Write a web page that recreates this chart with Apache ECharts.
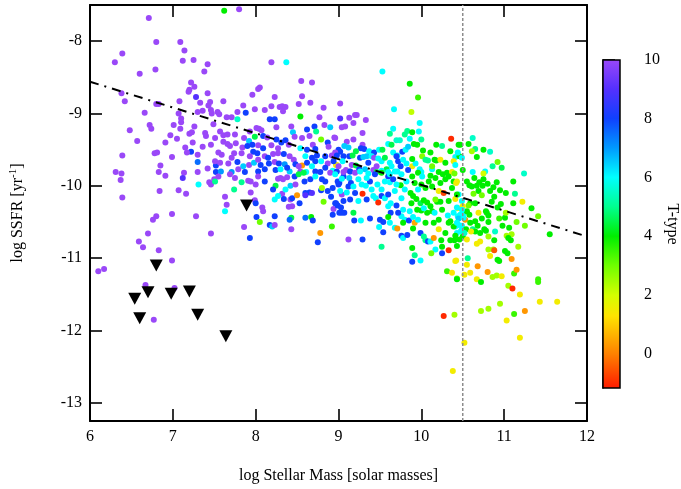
<!DOCTYPE html>
<html><head><meta charset="utf-8">
<script src="https://cdn.jsdelivr.net/npm/echarts@6/dist/echarts.min.js"></script>
<style>html,body{margin:0;padding:0;background:#fff}#c{width:681px;height:489px}</style>
</head><body><div id="c"></div>
<script>
// ---- axis / tick values ----
const xTicks = [6, 7, 8, 9, 10, 11, 12];
const yTicks = [-13, -12, -11, -10, -9, -8];
const cbTicks = [0, 2, 4, 6, 8, 10];
const xRange = [6, 12];
const yRange = [-13.25, -7.5];
const cbRange = [-1.17, 10];
const fitLine = [[6, -8.56], [12, -10.70]];
const massLimit = 10.5;

// ---- galaxies: [log M*, log SSFR, T-type] ----
const dwarfsLow = [
[6.71,-7.68,10],[6.80,-8.01,10],[7.09,-8.01,10],[6.39,-8.17,10],[6.30,-8.29,10],[7.14,-8.13,10],[7.12,-8.27,10],[7.25,-8.26,10],[7.42,-8.32,10],[7.38,-8.42,10],[6.79,-8.39,10],[6.60,-8.45,10],[7.22,-8.57,10],[7.26,-8.63,10],[7.20,-8.67,10],[7.19,-8.70,10],[7.42,-8.72,10],[7.28,-8.77,9],[6.38,-8.72,10],[6.42,-8.83,10],[7.08,-8.83,10],[6.80,-8.87,10],[6.83,-8.87,10],[7.45,-8.84,10],[7.43,-8.89,10],[7.33,-8.85,10],[7.46,-8.95,10],[7.36,-8.96,10],[7.47,-9.00,10],[7.30,-8.98,10],[6.66,-8.99,10],[7.07,-9.00,10],[7.10,-9.07,10],[7.10,-9.12,10],[7.49,-9.15,10],[6.72,-9.16,10],[6.74,-9.21,10],[7.01,-9.16,10],[7.26,-9.18,10],[7.09,-9.21,10],[6.48,-9.23,10],[6.97,-9.30,10],[7.05,-9.35,10],[7.20,-9.28,10],[7.23,-9.26,10],[7.39,-9.27,10],[7.40,-9.31,10],[7.51,-9.34,10],[6.57,-9.38,10],[6.91,-9.40,10],[7.24,-9.40,10],[7.15,-9.47,10],[7.36,-9.46,10],[7.46,-9.43,10],[7.22,-9.53,8],[7.17,-9.54,10],[7.30,-9.57,10],[6.78,-9.55,10],[6.81,-9.54,10],[6.39,-9.58,10],[6.99,-9.60,10],[7.30,-9.67,7.5],[6.85,-9.72,10],[6.83,-9.81,10],[6.31,-9.81,10],[6.38,-9.83,10],[7.135,-9.82,10],[7.30,-9.81,10],[7.42,-9.76,10],[7.52,-9.72,8],[7.52,-9.81,8],
[6.37,-9.92,10],[6.91,-9.86,10],[7.12,-9.89,9],[7.31,-9.98,6],[7.44,-9.95,10],[7.46,-9.98,10],[7.50,-9.91,10],[6.39,-10.16,10],[6.84,-10.07,10],[7.07,-10.06,10],[7.16,-10.11,10],[6.80,-10.42,10],[6.76,-10.47,10],[6.99,-10.39,10],[7.28,-10.42,10],[6.70,-10.66,10],[7.46,-10.66,10],[6.59,-10.77,10],[6.64,-10.85,10],[6.83,-10.89,10],[6.99,-11.03,10],[6.10,-11.18,10],[6.17,-11.15,10],[6.67,-11.37,10],[7.02,-11.41,10],[6.77,-11.85,10]
];
const dwarfsHigh = [
[7.62,-7.58,4],[7.80,-7.56,10],[8.19,-8.29,10],[8.37,-8.29,6],[8.55,-8.55,10],[8.68,-8.57,10],[8.05,-8.64,10],[8.03,-8.66,10],[8.56,-8.76,10],[7.96,-8.74,10],[8.23,-8.77,10],[7.61,-8.83,10],[7.85,-8.89,10],[7.99,-8.94,10],[8.11,-8.95,10],[8.19,-8.90,10],[8.29,-8.91,10],[8.32,-8.90,10],[8.36,-8.91,10],[8.33,-8.97,10],[8.52,-8.87,10],[8.66,-8.85,10],[8.82,-8.92,10],[7.54,-8.98,10],[7.56,-9.01,10],[7.78,-8.98,10],[7.88,-8.99,8],[7.65,-9.05,10],[7.71,-9.05,10],[7.78,-9.08,5.5],[8.54,-9.04,4],[8.77,-9.05,10],[8.17,-9.08,8],[8.23,-9.08,8],[8.25,-9.19,10],[8.43,-9.18,10],[8.07,-9.23,10],[8.04,-9.21,10],[8.01,-9.20,10],[7.93,-9.25,10],[8.62,-9.22,8],[8.71,-9.18,8],[8.73,-9.25,5],[8.83,-9.16,10],[8.90,-9.19,6.5],[8.45,-9.26,6.5],[7.57,-9.25,10],[7.61,-9.30,10],[7.66,-9.29,10],[7.75,-9.29,10],[7.86,-9.34,10],[7.92,-9.38,6.5],[7.99,-9.32,4.5],[8.09,-9.31,8],[8.14,-9.33,10],[8.25,-9.36,8],[8.31,-9.40,8],[8.36,-9.37,8],[8.47,-9.32,10],[8.56,-9.34,10],[8.65,-9.31,10],[8.69,-9.43,10],[8.79,-9.36,3],[8.87,-9.40,8],[8.95,-9.33,10],[7.61,-9.39,10],[7.66,-9.42,10],[7.69,-9.45,10],[7.76,-9.41,10],[7.84,-9.47,10],[7.90,-9.45,8],[7.96,-9.43,8],[8.03,-9.44,10],[8.09,-9.48,8],[8.19,-9.44,10],[8.27,-9.48,10],[8.40,-9.43,10],[8.54,-9.48,6],[8.62,-9.50,8],[8.72,-9.49,8],[8.88,-9.46,10],[9.00,-9.50,8],[7.55,-9.54,10],[7.59,-9.57,10],[7.74,-9.55,10],[7.83,-9.55,10],[7.97,-9.53,8],[8.02,-9.55,8],[8.11,-9.59,10],[8.21,-9.56,10],[8.27,-9.55,10],[8.34,-9.56,8],[8.41,-9.59,10],[8.46,-9.64,10],[8.60,-9.59,6],[8.68,-9.61,8],[8.74,-9.58,8],[8.84,-9.59,8],[8.92,-9.58,10],[7.51,-9.66,10],[7.57,-9.68,10],[7.67,-9.69,10],[7.78,-9.67,8],[7.85,-9.73,6.5],[7.92,-9.71,10],[7.98,-9.68,6.5],[8.06,-9.71,8],[8.16,-9.69,8],[8.23,-9.67,10],[8.28,-9.69,8],[8.35,-9.70,7],[8.48,-9.70,8],[8.56,-9.72,0.3],[8.62,-9.68,8],[8.72,-9.66,8],[8.79,-9.66,6],[8.87,-9.69,10],[8.98,-9.71,1.5],[7.58,-9.80,7],[7.71,-9.81,7],[7.87,-9.81,8],[8.03,-9.80,8],[8.24,-9.78,8],[8.41,-9.80,6.5],[8.61,-9.81,6],[8.78,-9.81,8],[8.93,-9.79,6]
];
const spiralsLow = [
[7.51,-9.94,5],[7.63,-10.15,10],[7.65,-10.26,10],[7.63,-10.35,6],[7.74,-10.05,5],[7.83,-9.95,5],[7.94,-10.09,10],[7.91,-9.93,10],[7.94,-9.94,10],[8.00,-9.98,10],[8.03,-9.87,10],[8.11,-9.94,8],[7.99,-10.20,10],[8.00,-10.24,8],[8.08,-10.30,10],[8.09,-10.35,10],[8.01,-10.43,8],[8.05,-10.50,3],[7.86,-10.57,10],[7.93,-10.72,8],[8.24,-10.00,4.5],[8.27,-9.90,10],[8.30,-9.89,10],[8.33,-9.91,10],[8.38,-9.88,10],[8.32,-10.11,10],[8.23,-10.19,6],[8.27,-10.14,6],[8.34,-10.18,8],[8.23,-10.42,8],[8.17,-10.54,8],[8.20,-10.56,6.5],[8.23,-10.54,10],[8.42,-10.00,6.5],[8.42,-10.19,10],[8.44,-10.17,8],[8.50,-10.13,0.3],[8.47,-9.87,8],[8.48,-9.98,10],[8.44,-10.28,10],[8.40,-10.29,10],[8.43,-10.44,4.5],[8.41,-10.47,7.5],[8.43,-10.60,10],[8.53,-10.24,8],[8.60,-10.10,8],[8.65,-10.09,8],[8.68,-10.10,9],[8.60,-10.13,9],[8.60,-10.44,7.5],[8.67,-10.43,4],[8.69,-10.48,8],[8.59,-9.94,8],[8.66,-9.91,8],[8.79,-10.06,8],[8.87,-10.07,8],[8.80,-10.03,2.5],[8.82,-10.22,3],[8.84,-9.94,8],[8.91,-10.15,8],[8.93,-10.03,8],[8.97,-10.24,8],[8.94,-10.32,10],[8.93,-10.40,8],[9.01,-10.37,8],[8.78,-10.65,0.3],[8.92,-10.56,3.5],[8.75,-10.78,8]
];
const spiralsMid = [
[9.53,-8.42,6],[9.86,-8.59,4],[9.96,-8.78,3.5],[9.67,-8.94,6],[9.88,-8.98,2.2],[9.02,-8.86,10],[9.02,-9.07,9],[9.13,-9.06,10],[9.20,-9.02,10],[9.22,-9.02,10],[9.04,-9.19,10],[9.08,-9.18,10],[9.18,-9.13,10],[9.33,-9.09,10],[9.29,-9.27,10],[9.98,-9.13,6],[9.66,-9.21,6],[9.62,-9.28,5],[9.83,-9.24,5],[9.80,-9.29,5],[9.89,-9.26,4],[9.97,-9.25,6],[9.70,-9.37,5.5],[9.74,-9.37,5.5],[9.60,-9.42,6],[9.86,-9.35,6],[9.91,-9.42,4],[10.00,-9.36,5],[8.96,-9.34,10],[9.10,-9.39,10],[9.18,-9.36,10],[9.29,-9.43,10],[9.07,-9.45,6.5],[9.12,-9.47,6.5],[9.02,-9.53,8],[9.27,-9.48,8],[9.31,-9.49,8],[9.21,-9.52,4.5],[9.37,-9.52,6],[9.43,-9.54,8],[9.49,-9.50,6],[9.53,-9.50,4.5],[9.64,-9.43,4.5],[9.66,-9.54,6],[9.71,-9.58,6],[9.77,-9.53,8],[9.81,-9.50,6],[9.84,-9.46,6.5],[9.95,-9.43,4],[10.02,-9.51,4],[10.01,-9.59,2.8],[10.05,-9.64,5],[10.08,-9.65,5],[10.18,-9.43,4],[10.25,-9.45,5],[10.16,-9.64,4],[10.18,-9.65,4],[10.23,-9.64,1.5],[10.36,-9.35,-1],[10.35,-9.52,4],[10.41,-9.60,6],[10.39,-9.66,1.5],[10.41,-9.71,6],[10.45,-9.43,4],[10.46,-9.59,4],[8.96,-9.54,10],[8.98,-9.58,8],[9.06,-9.59,8],[9.13,-9.59,8],[9.17,-9.58,4.5],[9.05,-9.66,6],[9.16,-9.71,10],[9.26,-9.61,8],[9.30,-9.60,6.5],[9.34,-9.59,6.5],[9.40,-9.59,6],[9.43,-9.61,10],[9.48,-9.62,6],[9.52,-9.66,6],[9.56,-9.61,4.5],[9.62,-9.68,6],[9.64,-9.73,6],[9.70,-9.59,8],[9.72,-9.66,8],[9.75,-9.73,8],[9.82,-9.69,6],[9.89,-9.73,1.5],[9.93,-9.69,6],[8.97,-9.71,1.5],[9.21,-9.72,4.5],[9.09,-9.78,10],[9.14,-9.80,10],[9.25,-9.77,8],[9.32,-9.77,6.5],[9.42,-9.78,10],[9.46,-9.81,4.5],[9.58,-9.77,4.5],[9.60,-9.81,6],[9.52,-9.79,6],[9.71,-9.80,6],[9.84,-9.78,8],[9.98,-9.77,6],[10.00,-9.81,6],[10.13,-9.77,6],[10.21,-9.81,4],[10.31,-9.82,4],[10.37,-9.81,1.5]
];
const spiralsHigh = [
[8.99,-9.94,8],[9.01,-9.96,8],[9.06,-9.87,8],[9.13,-9.89,6.5],[9.15,-9.96,8],[9.04,-10.12,10],[9.12,-10.01,8],[9.02,-10.07,6],[9.10,-10.09,6],[9.18,-10.01,6],[9.20,-10.10,8],[9.29,-10.11,-1],[9.28,-9.98,6],[9.33,-10.00,6],[9.38,-9.94,8],[9.40,-10.05,6],[8.96,-10.24,8],[8.99,-10.27,8],[9.03,-10.30,8],[9.04,-10.37,8],[9.07,-10.37,8],[9.18,-10.37,4.5],[9.19,-10.48,8],[9.27,-10.48,6],[9.12,-10.74,10],[9.29,-10.74,8],[9.38,-10.45,8],[9.45,-10.17,6],[9.48,-10.23,-1],[9.52,-10.14,8],[9.56,-10.17,6],[9.50,-10.47,8],[9.54,-10.50,8],[9.49,-10.57,6],[9.54,-10.64,8],[9.47,-9.98,6],[9.60,-9.87,8],[9.62,-9.95,6],[9.60,-10.28,6],[9.63,-10.24,6],[9.63,-10.37,8],[9.60,-10.43,4],[9.62,-10.51,6],[9.68,-10.58,6],[9.71,-10.59,0.3],[9.52,-10.84,5],[9.70,-10.27,8],[9.76,-10.17,6],[9.75,-9.99,4],[9.80,-10.05,6],[9.76,-10.42,6],[9.80,-10.47,6],[9.78,-10.51,4],[9.85,-10.48,8],[9.90,-10.43,6],[9.92,-10.51,0.5],[9.90,-10.59,4],[9.76,-10.69,8],[9.78,-10.72,6],[9.83,-10.68,8],[9.88,-10.24,4],[9.90,-10.14,4],[9.94,-10.18,4],[9.99,-10.24,4.5],[10.03,-10.20,4],[10.07,-10.23,4],[10.00,-10.34,4],[9.99,-10.65,8],[10.03,-10.70,5],[10.05,-10.75,5],[9.89,-10.86,4],[9.92,-10.96,5],[9.89,-11.05,8],[9.99,-11.03,6],[10.05,-10.03,4],[10.13,-10.01,4],[10.07,-10.37,4],[10.13,-10.35,4],[10.16,-10.37,6],[10.15,-10.51,4],[10.08,-10.77,8],[10.11,-10.77,6],[10.15,-10.72,0.3],[10.17,-10.88,6],[10.24,-10.75,4],[10.25,-10.93,8],[10.25,-10.84,4],[10.12,-10.93,3],[10.19,-10.22,4],[10.23,-10.22,4],[10.21,-10.07,1.5],[10.27,-10.10,-0.7],[10.32,-10.41,6],[10.33,-10.51,4],[10.35,-10.49,4],[10.29,-10.65,4],[10.33,-10.89,-1],[10.35,-10.75,4],[10.40,-10.75,4],[10.43,-10.65,6],[10.43,-10.83,4],[10.42,-11.03,1.5],[10.31,-11.18,3.5],[10.37,-11.20,1.3],[10.43,-11.28,3],[10.27,-11.80,-1],[10.40,-11.78,2.5],[10.39,-9.94,4],[10.43,-9.94,1.8]
];
const massive = [
[10.62,-9.34,5.5],[10.47,-9.43,4],[10.57,-9.42,4],[10.65,-9.49,5],[10.75,-9.50,4],[10.83,-9.53,5.5],[10.61,-9.52,2.5],[10.67,-9.60,4],[10.44,-9.54,6],[10.49,-9.61,6],[10.92,-9.67,3],[10.86,-9.73,5],[10.97,-9.75,4.5],[10.50,-9.78,4],[10.62,-9.81,6],[10.77,-9.80,6],[10.75,-9.83,2],[11.24,-9.83,5.5],[10.55,-9.94,4],[10.64,-9.89,4],[10.75,-9.91,4],[10.91,-9.95,4],[11.11,-9.94,4],[10.42,-9.96,1.5],[10.61,-10.01,4],[10.67,-10.00,4],[10.74,-10.00,4],[10.83,-10.07,4],[10.69,-10.07,4],[10.73,-10.13,3],[10.63,-10.11,3],[10.88,-10.15,4],[11.13,-10.11,5],[10.41,-10.18,1.5],[10.49,-10.21,6],[10.45,-10.12,6],[10.59,-10.24,4],[10.57,-10.27,3],[10.65,-10.24,4],[10.96,-10.25,4],[11.11,-10.24,4],[11.22,-10.22,1.5],[11.33,-10.31,4],[10.50,-10.28,1.5],[10.44,-10.31,1.5],[10.47,-10.40,6],[10.51,-10.38,6],[10.55,-10.35,4],[10.58,-10.40,4],[10.69,-10.37,1.5],[10.78,-10.35,4],[10.79,-10.37,4],[10.81,-10.41,4],[10.94,-10.45,3.5],[11.01,-10.44,4],[11.02,-10.37,2.5],[11.41,-10.42,3],[10.44,-10.42,6],[10.41,-10.56,6],[10.45,-10.54,6],[10.49,-10.55,6],[10.49,-10.63,6],[10.54,-10.60,4],[10.53,-10.47,0.3],[10.59,-10.51,4],[10.62,-10.60,5],[10.65,-10.49,4],[10.65,-10.63,4],[10.71,-10.65,4],[10.81,-10.50,4],[10.76,-10.60,4],[10.78,-10.62,4],[10.89,-10.63,5.5],[10.41,-10.69,4],[10.46,-10.74,4],[10.50,-10.70,4],[10.55,-10.74,1.5],[10.60,-10.63,1.5],[10.67,-10.80,1.5],[10.71,-10.77,1.5],[10.81,-10.70,2.5],[10.88,-10.75,4],[11.03,-10.69,2.5],[11.09,-10.67,2.5],[11.05,-10.72,4],[11.08,-10.75,4],[11.17,-10.84,2.5],[10.81,-10.88,2.5],[10.87,-10.88,2.5],[10.88,-10.89,-0.5],[10.83,-10.97,1.5],[11.01,-10.90,4],[11.04,-10.93,4],[10.92,-11.02,4],[10.94,-11.04,4],[11.09,-11.01,0.3],[10.56,-11.00,5],[10.55,-11.09,1.5],[10.68,-11.11,0.3],[10.41,-11.04,1.5],[10.43,-11.29,4],[10.52,-11.23,1.5],[10.59,-11.20,1.5],[10.80,-11.19,0.3],[10.67,-11.29,1.5],[10.72,-11.33,4],[10.86,-11.26,2.5],[10.91,-11.24,2.5],[10.97,-11.25,1.5],[11.12,-11.21,3.5],[11.15,-11.16,0.3],[11.41,-11.29,3.5],[11.41,-11.33,3.5],[11.05,-11.38,2.5],[11.10,-11.42,-1],[11.19,-11.50,1.5],[11.43,-11.60,1.5],[11.64,-11.60,1.5],[10.72,-11.73,2.5],[10.81,-11.70,2.5],[10.95,-11.63,2.5],[11.12,-11.77,3.5],[11.25,-11.73,0.3],[11.03,-11.86,1.5],[11.55,-10.67,4],[11.19,-12.10,1.5],[10.52,-12.17,1.5],[10.38,-12.56,1.5]
];
const coreExtra = [
[8.98,-9.80,8],[9.06,-9.81,10],[9.14,-9.80,8],[9.20,-9.82,10],[9.26,-9.80,6],[9.36,-9.83,6],[9.44,-9.84,8],[9.52,-9.82,4],[9.62,-9.84,6],[9.68,-9.80,6],[9.76,-9.84,6],[9.89,-9.87,4],[9.96,-9.82,4],[10.01,-9.87,6],[10.11,-9.86,4],[10.17,-9.89,4],[10.26,-9.84,4],[10.33,-9.87,4],[10.40,-9.83,3],
[9.04,-9.90,6],[9.24,-9.91,6],[9.34,-9.89,6],[9.56,-9.94,6],[9.66,-9.91,8],[9.70,-9.98,6],[9.82,-9.94,6],[9.92,-9.96,4],[10.00,-9.98,4],[10.09,-9.94,4],[10.23,-9.96,4],[10.29,-9.91,4],[10.37,-10.03,4],[10.43,-10.12,4],[9.96,-10.05,6],[9.87,-10.10,4],[9.68,-10.07,6],[9.60,-10.12,8],[9.52,-10.05,6],[9.42,-10.14,6],[9.34,-10.19,8],[9.24,-10.21,6],[9.14,-10.19,8],[9.06,-10.21,8],[10.33,-10.21,4],[10.17,-10.19,3],[10.11,-10.28,4],[10.03,-10.31,6],[9.95,-10.33,4],[9.86,-10.35,6],[9.78,-10.33,6],[9.72,-10.37,8],[10.25,-10.33,4],[10.39,-10.37,6],[10.21,-10.47,4],[10.05,-10.51,4],[9.96,-10.47,6],[10.39,-10.56,4],[10.21,-10.60,1.5],
[9.36,-9.68,8],[9.46,-9.73,10],[9.78,-9.64,6],[9.89,-9.63,4],[10.11,-9.54,4],[10.29,-9.68,4],[10.13,-9.73,3],[9.00,-9.73,10],
[7.71,-9.61,10],[8.03,-9.64,10],[8.15,-9.61,8],[8.38,-9.75,8],[8.52,-9.73,10],[8.68,-9.73,6],[8.84,-9.75,8],[8.94,-9.66,8],[7.93,-9.59,10],[7.79,-9.77,10],[8.11,-9.77,8],[8.30,-9.77,6],[8.54,-9.80,10],[8.72,-9.80,8],[8.90,-9.82,10],
[7.55,-9.87,10],[7.69,-9.84,10],[7.75,-9.89,10],[8.52,-9.84,4.5],[8.58,-9.82,4.5],[8.72,-9.87,6],[8.80,-9.91,8],[8.96,-9.84,6],[9.00,-9.98,8],[8.21,-10.05,8],[8.36,-10.05,6],
[10.43,-10.30,6],[10.49,-10.33,6],[10.45,-10.45,6.5],[10.51,-10.44,6],[10.43,-10.51,6],[10.48,-10.62,6],[10.52,-10.65,5.5],
[10.58,-9.99,4],[10.70,-9.95,4],[10.80,-9.97,4],[10.87,-10.02,4],[10.95,-10.06,4],[11.02,-10.10,4],[10.85,-10.22,4],[10.92,-10.30,4],[10.73,-10.45,4],[10.68,-10.55,4],[10.98,-10.55,4],[11.06,-10.58,4],[11.15,-10.50,3],[11.25,-10.55,3]
];
// upper limits on SSFR: [log M*, log SSFR]
const upperLimits = [[6.54,-11.56],[6.60,-11.83],[6.70,-11.47],[6.80,-11.10],[6.98,-11.49],[7.20,-11.46],[7.30,-11.78],[7.64,-12.08],[7.89,-10.27]];

// ---- colour scale (style) ----
const colorStops = [[-1.17,'#ff1a00'],[0,'#ff8000'],[1.3,'#ffe400'],[2,'#d4ff00'],[3,'#70ff00'],[4,'#00ee00'],[5,'#00ff90'],[6,'#00ffff'],[7,'#0099ff'],[8,'#1040ff'],[9,'#5530ff'],[10,'#9a48f8']];
function hex2rgb(h){return [parseInt(h.slice(1,3),16),parseInt(h.slice(3,5),16),parseInt(h.slice(5,7),16)];}
function colorFor(v){
  if (v <= colorStops[0][0]) return colorStops[0][1];
  for (let i=1;i<colorStops.length;i++){
    if (v <= colorStops[i][0]){
      const a=colorStops[i-1], b=colorStops[i];
      const f=(v-a[0])/(b[0]-a[0]);
      const ca=hex2rgb(a[1]), cb=hex2rgb(b[1]);
      return 'rgb('+ca.map((c,k)=>Math.round(c+(cb[k]-c)*f)).join(',')+')';
    }
  }
  return colorStops[colorStops.length-1][1];
}
const gradient = {type:'linear',x:0,y:0,x2:0,y2:1,colorStops:colorStops.slice().reverse().map(s=>({offset:(cbRange[1]-s[0])/(cbRange[1]-cbRange[0]),color:s[1]}))};

const allGalaxies = [].concat(dwarfsLow, dwarfsHigh, spiralsLow, spiralsMid, spiralsHigh, massive, coreExtra);
const FONT = 'Liberation Serif';
const txt = {fontFamily: FONT, fontSize: 16, color: '#000'};
const axisBase = {
  type: 'value', splitLine: {show: false},
  axisLine: {show: true, onZero: false, lineStyle: {color: '#000', width: 2}},
  axisTick: {show: true, inside: true, length: 12, lineStyle: {color: '#000', width: 1.6}},
};

const chart = echarts.init(document.getElementById('c'), null, {renderer: 'canvas'});
chart.setOption({
  animation: false,
  backgroundColor: '#fff',
  grid: [
    {left: 90, right: 94, top: 5, bottom: 67},
    {left: 603, width: 17, top: 60, height: 328}
  ],
  xAxis: [
    Object.assign({}, axisBase, {gridIndex: 0, position: 'bottom', min: xRange[0], max: xRange[1], interval: 1,
      axisLabel: Object.assign({margin: 8}, txt),
      name: 'log Stellar Mass [solar masses]', nameLocation: 'middle', nameGap: 47, nameTextStyle: txt}),
    Object.assign({}, axisBase, {gridIndex: 0, position: 'top', min: xRange[0], max: xRange[1], interval: 1,
      axisLabel: {show: false}}),
    {type: 'value', gridIndex: 1, min: 0, max: 1, show: false}
  ],
  yAxis: [
    Object.assign({}, axisBase, {gridIndex: 0, position: 'left', min: yRange[0], max: yRange[1],
      axisTick: Object.assign({}, axisBase.axisTick, {customValues: yTicks}),
      axisLabel: Object.assign({margin: 8, customValues: yTicks}, txt),
      name: '{t|log SSFR [yr}{s|-1}{t|]}', nameLocation: 'middle', nameGap: 62,
      nameTextStyle: {rich: {t: {fontFamily: FONT, fontSize: 16, color: '#000', lineHeight: 20}, s: {fontFamily: FONT, fontSize: 11, color: '#000', verticalAlign: 'top', lineHeight: 12}}}}),
    Object.assign({}, axisBase, {gridIndex: 0, position: 'right', min: yRange[0], max: yRange[1],
      axisTick: Object.assign({}, axisBase.axisTick, {customValues: yTicks}),
      axisLabel: {show: false}}),
    {type: 'value', gridIndex: 1, position: 'right', min: cbRange[0], max: cbRange[1], splitLine: {show: false},
      axisLine: {show: true, lineStyle: {color: '#000', width: 1.5}},
      axisTick: {show: true, inside: false, length: 12, customValues: cbTicks, lineStyle: {color: '#000', width: 1.6}},
      axisLabel: Object.assign({margin: 24, customValues: cbTicks}, txt),
      name: 'T-type', nameLocation: 'middle', nameRotate: -90, nameGap: 32, nameTextStyle: txt}
  ],
  series: [
    {type: 'scatter', xAxisIndex: 0, yAxisIndex: 0, symbol: 'circle', symbolSize: 6, silent: true,
      data: allGalaxies, itemStyle: {opacity: 1, color: p => colorFor(p.value[2])}},
    {type: 'scatter', xAxisIndex: 0, yAxisIndex: 0, symbol: 'triangle', symbolRotate: 180, symbolSize: [13, 12], silent: true,
      data: upperLimits, itemStyle: {color: '#000', opacity: 1}, z: 3},
    {type: 'line', xAxisIndex: 0, yAxisIndex: 0, symbol: 'none', silent: true, z: 4,
      data: [[massLimit, yRange[0]], [massLimit, yRange[1]]],
      lineStyle: {color: '#8c8c8c', width: 1.5, type: [3, 2]}},
    {type: 'line', xAxisIndex: 0, yAxisIndex: 0, symbol: 'none', silent: true, z: 5,
      data: fitLine, lineStyle: {color: '#000', width: 2, type: [9, 6, 2, 6]}},
    {type: 'custom', xAxisIndex: 2, yAxisIndex: 2, silent: true, z: 1,
      data: [[0, cbRange[0], 1, cbRange[1]]],
      renderItem: function (params, api) {
        const p0 = api.coord([api.value(0), api.value(3)]);
        const p1 = api.coord([api.value(2), api.value(1)]);
        return {type: 'rect', shape: {x: p0[0], y: p0[1], width: p1[0]-p0[0], height: p1[1]-p0[1]},
          style: {fill: gradient, stroke: '#000', lineWidth: 1.5}};
      }}
  ]
});
</script>
</body></html>
